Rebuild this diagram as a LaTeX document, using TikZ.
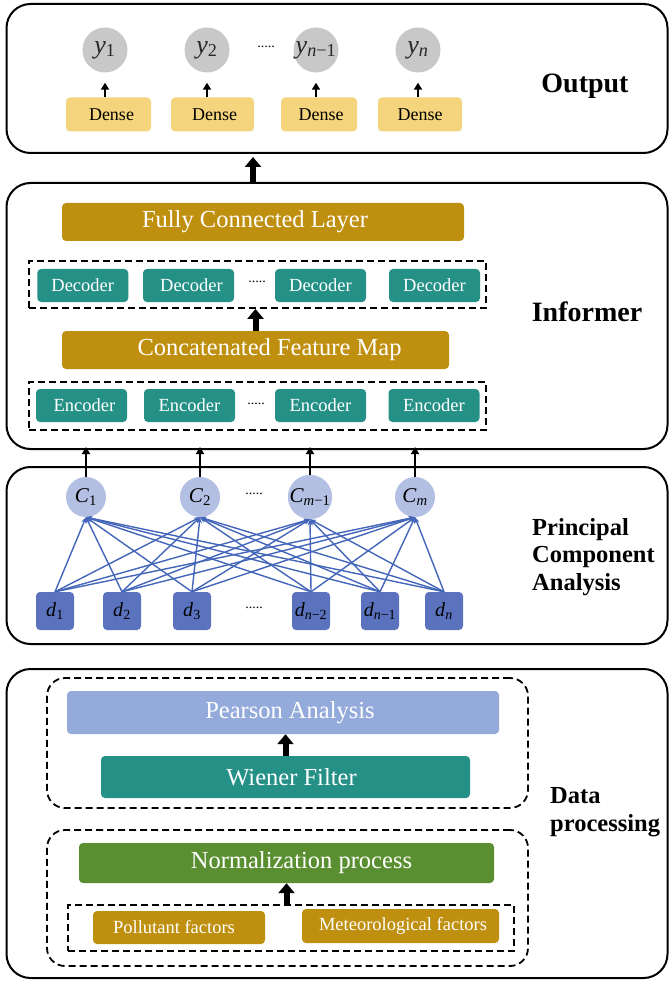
\documentclass[tikz,border=0pt]{standalone}
\usepackage{fontspec}
\setmainfont{Liberation Serif}
\usetikzlibrary{arrows.meta}
\definecolor{densey}{HTML}{F4D47C}
\definecolor{ygray}{HTML}{C8C8C8}
\definecolor{gold}{HTML}{BF9010}
\definecolor{tealb}{HTML}{259086}
\definecolor{clav}{HTML}{B3BFE3}
\definecolor{dblue}{HTML}{5B72BE}
\definecolor{lblue}{HTML}{4466BA}
\definecolor{pear}{HTML}{93AADA}
\definecolor{ngreen}{HTML}{5A8F31}
\newcommand\bigf{\fontsize{24.5pt}{28pt}\selectfont}
\newcommand\medf{\fontsize{18.5pt}{22pt}\selectfont}
\newcommand\ttlf{\fontsize{24.5pt}{28pt}\selectfont\bfseries}
\newcommand\vsub[2]{\textit{#1}\textsubscript{#2}}
\newcommand\shiftr[2]{\hspace*{#1}#2}
\newcommand\shiftl[2]{#2\hspace*{#1}}
\begin{document}
\begin{tikzpicture}[x=1pt,y=-1pt,
  bigbox/.style={draw, line width=2pt, rounded corners=24pt, inner sep=0pt},
  dbox/.style={draw, line width=1.8pt, dash pattern=on 7pt off 4pt, inner sep=0pt},
  blk/.style={rectangle, rounded corners=4pt, inner sep=0pt, text=white},
  ycirc/.style={circle, fill=ygray, minimum size=45pt, inner sep=0pt, text=black!85, font=\fontsize{26pt}{26pt}\selectfont},
  densebox/.style={blk, fill=densey, text=black, minimum height=34pt, font=\fontsize{18pt}{20pt}\selectfont},
  coder/.style={blk, fill=tealb, minimum height=33pt, minimum width=91pt, font=\medf},
  wide/.style={blk, font=\bigf},
  ccirc/.style={circle, fill=clav, minimum size=40pt, inner sep=0pt, font=\fontsize{21pt}{21pt}\selectfont},
  dsq/.style={blk, fill=dblue, text=black, minimum size=38pt, font=\fontsize{20pt}{20pt}\selectfont},
  sarrow/.style={line width=2pt, -{Triangle[width=8pt,length=7pt]}},
  barrow/.style={line width=6pt, -{Triangle[width=16pt,length=10pt]}},
  pline/.style={lblue, line width=1.4pt, -{Stealth[length=6pt,width=5pt]}},
  dots/.style={font=\fontsize{14pt}{14pt}\selectfont, inner sep=0pt},
  ttl/.style={font=\ttlf, inner sep=0pt}]
\useasboundingbox (0,0) rectangle (669,981);
\fill[white] (0,0) rectangle (669,981);

% ---------------- Output ----------------
\node[bigbox, minimum width=661pt, minimum height=149pt] (out) at (337,78.5) {};
\node[ycirc] (y1) at (105,50) {\vsub{y}{1}};
\node[ycirc] (y2) at (207,50) {\vsub{y}{2}};
\node[ycirc] (y3) at (316,50) {\vsub{y}{\textit{n}−1}};
\node[ycirc] (y4) at (418,50) {\vsub{y}{\textit{n}}};
\node[dots] (ydots) at (266,47) {.....};
\node[densebox, minimum width=85pt] (de1) at (108.5,114.5) {\shiftr{6pt}{Dense}};
\node[densebox, minimum width=83pt] (de2) at (212.5,114.5) {\shiftr{4pt}{Dense}};
\node[densebox, minimum width=76pt] (de3) at (319,114.5) {\shiftr{4pt}{Dense}};
\node[densebox, minimum width=84pt] (de4) at (420,114.5) {Dense};
\foreach \i in {1,...,4}{
  \draw[sarrow, shorten >=10pt] (de\i.north -| y\i.south) -- (y\i.south);
}
\node[ttl, font=\fontsize{28pt}{30pt}\selectfont\bfseries] (outl) at (585,86) {Output};

% ---------------- Informer ----------------
\node[bigbox, minimum width=661pt, minimum height=266pt] (inf) at (337,316) {};
\coordinate (bigarr) at (253,0);
\draw[barrow, shorten >=3pt] (bigarr |- inf.north) -- (bigarr |- out.south);
\node[wide, fill=gold, minimum width=402pt, minimum height=38pt] (fcl) at (263,222) {\shiftl{16pt}{Fully Connected Layer}};
\node[dbox, minimum width=457pt, minimum height=47pt] (decbox) at (257.5,284.5) {};
\node[coder] (dec1) at (82.75,285.5) {Decoder};
\node[coder] (dec2) at (188.5,285.5) {\shiftr{6pt}{Decoder}};
\node[coder] (dec3) at (320.5,285.5) {Decoder};
\node[coder] (dec4) at (434.5,285.5) {Decoder};
\node[dots] (decdots) at (257,282) {.....};
\node[wide, fill=gold, minimum width=387pt, minimum height=38pt] (cfm) at (255.5,350) {\shiftr{28pt}{Concatenated Feature Map}};
\draw[barrow] (cfm.north) -- (cfm.north |- decbox.south);
\node[dbox, minimum width=457pt, minimum height=48pt] (encbox) at (257.5,406) {};
\node[coder] (enc1) at (81.5,405.5) {\shiftr{6pt}{Encoder}};
\node[coder] (enc2) at (189.5,405.5) {Encoder};
\node[coder] (enc3) at (320.5,405.5) {Encoder};
\node[coder] (enc4) at (434,405.5) {Encoder};
\node[dots] (encdots) at (256,404) {.....};
\node[ttl, font=\fontsize{28pt}{30pt}\selectfont\bfseries] (infl) at (587,312) {Informer};

% ---------------- PCA ----------------
\node[bigbox, minimum width=661pt, minimum height=177pt] (pca) at (337,555.5) {};
\node[ccirc] (c1) at (86,497) {\vsub{C}{1}};
\node[ccirc] (c2) at (200,497) {\vsub{C}{2}};
\node[ccirc] (c3) at (310,497) {\vsub{C}{\textit{m}−1}};
\node[ccirc] (c4) at (415,497) {\vsub{C}{\textit{m}}};
\node[dots] (cdots) at (254,494) {.....};
\foreach \i in {1,...,4}{
  \draw[sarrow, shorten >=-3pt] (c\i.north) -- (c\i.north |- inf.south);
}
\node[dsq] (d1) at (55,611) {\vsub{d}{1}};
\node[dsq] (d2) at (122,611) {\vsub{d}{2}};
\node[dsq] (d3) at (192,611) {\vsub{d}{3}};
\node[dsq] (d4) at (311,611) {\vsub{d}{\textit{n}−2}};
\node[dsq] (d5) at (380,611) {\vsub{d}{\textit{n}−1}};
\node[dsq] (d6) at (444,611) {\vsub{d}{\textit{n}}};
\node[dots] (ddots) at (254,608) {.....};
\foreach \i in {1,...,6}{
  \foreach \j in {1,...,4}{
    \draw[pline] (d\i.north) -- (c\j.south);
  }
}
\node[ttl, align=left, anchor=west, font=\fontsize{24.5pt}{27.5pt}\selectfont\bfseries] (pcal) at (532,557) {Principal\\Component\\Analysis};

% ---------------- Data processing ----------------
\node[bigbox, minimum width=661pt, minimum height=309pt] (dp) at (337,823.5) {};
\node[dbox, rounded corners=18pt, minimum width=481pt, minimum height=130pt] (upbox) at (287.5,743) {};
\node[wide, fill=pear, minimum width=432pt, minimum height=43pt] (pear) at (283,712.5) {\shiftr{14pt}{Pearson Analysis}};
\node[wide, fill=tealb, minimum width=369pt, minimum height=42pt] (wien) at (285.5,777) {\shiftr{12pt}{Wiener Filter}};
\draw[barrow] (wien.north) -- (wien.north |- pear.south);
\node[dbox, rounded corners=18pt, minimum width=481pt, minimum height=136pt] (lowbox) at (287.5,898) {};
\node[wide, fill=ngreen, minimum width=415pt, minimum height=40pt] (norm) at (286.5,863) {\shiftr{30pt}{Normalization process}};
\node[dbox, minimum width=446pt, minimum height=46pt] (factbox) at (291,928) {};
\node[blk, fill=gold, minimum width=172pt, minimum height=33pt, font=\medf] (poll) at (179,927.5) {\shiftl{10pt}{Pollutant factors}};
\node[blk, fill=gold, minimum width=197pt, minimum height=34pt, font=\medf] (met) at (400.5,926) {\shiftr{5pt}{Meteorological factors}};
\draw[barrow] (norm.south |- factbox.north) -- (norm.south);
\node[ttl, align=left, anchor=west] (dpl) at (550,812) {Data\\processing};
\end{tikzpicture}
\end{document}
